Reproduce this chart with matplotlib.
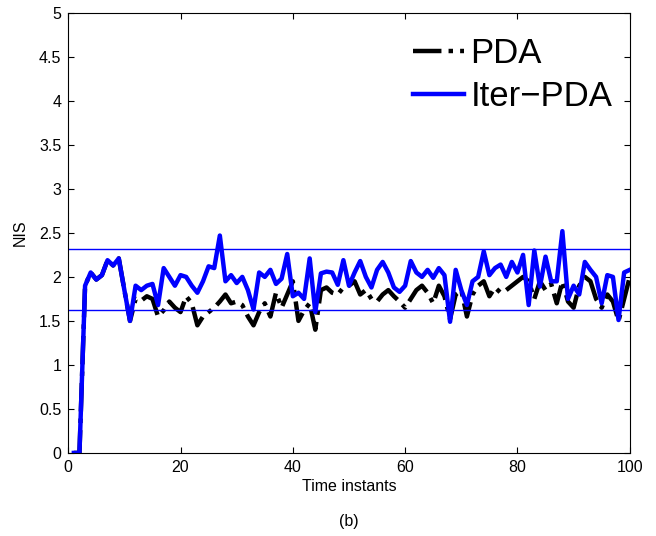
import numpy as np
import matplotlib
matplotlib.use('Agg')
import matplotlib.pyplot as plt

plt.rcParams['font.family'] = ['Liberation Sans', 'DejaVu Sans']

t = np.arange(1, 101)

iter_pda = [0, 0, 1.9, 2.05, 1.97, 2.02, 2.19, 2.13, 2.21, 1.85,
            1.5, 1.9, 1.85, 1.9, 1.92, 1.68, 2.1, 2.0, 1.9, 2.02,
            2.0, 1.9, 1.82, 1.95, 2.12, 2.1, 2.47, 1.95, 2.02, 1.93,
            2.0, 1.85, 1.63, 2.05, 2.0, 2.08, 1.92, 1.98, 2.26, 1.78,
            1.82, 1.75, 2.21, 1.6, 2.04, 2.06, 2.05, 1.91, 2.19, 1.9,
            2.05, 2.18, 2.0, 1.88, 2.08, 2.17, 2.05, 1.88, 1.83, 1.9,
            2.18, 2.05, 2.0, 2.08, 1.99, 2.1, 2.02, 1.49, 2.08, 1.85,
            1.68, 1.95, 2.0, 2.29, 2.02, 2.1, 2.14, 2.0, 2.17, 2.05,
            2.25, 1.68, 2.3, 1.89, 2.23, 1.95, 1.95, 2.52, 1.75, 1.9,
            1.8, 2.17, 2.08, 2.0, 1.7, 2.02, 2.0, 1.51, 2.05, 2.08]

pda = [0, 0, 1.9, 2.05, 1.97, 2.02, 2.19, 2.13, 2.21, 1.85,
       1.5, 1.75, 1.73, 1.78, 1.75, 1.55, 1.62, 1.72, 1.65, 1.6,
       1.78, 1.7, 1.45, 1.55, 1.6, 1.65, 1.72, 1.8, 1.7, 1.72,
       1.68, 1.55, 1.45, 1.6, 1.7, 1.55, 1.82, 1.65, 1.8, 1.95,
       1.5, 1.62, 1.7, 1.4, 1.85, 1.88, 1.82, 1.8, 1.88, 1.9,
       1.95, 1.8, 1.85, 1.75, 1.72, 1.8, 1.85, 1.78, 1.72, 1.65,
       1.75, 1.85, 1.9, 1.82, 1.7, 1.9, 1.78, 1.52, 1.8, 1.85,
       1.55, 1.8, 1.9, 1.95, 1.78, 1.88, 1.82, 1.85, 1.9, 1.95,
       2.0, 1.95, 1.75, 1.95, 1.85, 1.92, 1.7, 1.95, 1.72, 1.65,
       1.9, 2.0, 1.95, 1.75, 1.65, 1.8, 1.72, 1.5, 1.75, 2.0]

bounds = [1.62, 2.32]

fig = plt.figure(figsize=(6.56, 5.36), dpi=100)
ax = fig.add_axes([0.104, 0.155, 0.856, 0.821])

ax.plot(t, pda, color='black', lw=3.2, ls='-.', label='PDA')
ax.plot(t, iter_pda, color='#0000ff', lw=3.2, label='Iter\u2212PDA')
for b in bounds:
    ax.axhline(b, color='#0000ff', lw=1)

ax.set_xlim(0, 100)
ax.set_ylim(0, 5)
ax.set_xticks(np.arange(0, 101, 20))
ax.set_yticks(np.arange(0, 5.01, 0.5))
ax.set_yticklabels(['0', '0.5', '1', '1.5', '2', '2.5', '3', '3.5', '4', '4.5', '5'])
ax.tick_params(direction='in', labelsize=11.5, top=True, right=True, length=4, pad=5)
ax.set_xlabel('Time instants', fontsize=11.5, labelpad=3)
ax.set_ylabel('NIS', fontsize=11.5, labelpad=8)

ax.legend(loc='upper right', frameon=False, fontsize=25, handlelength=1.45,
          handletextpad=0.2, labelspacing=0.3, borderaxespad=0.1,
          bbox_to_anchor=(1.0, 0.985))

fig.text(0.532, 0.018, '(b)', ha='center', fontsize=11.5)

fig.savefig('out.png', dpi=100)
